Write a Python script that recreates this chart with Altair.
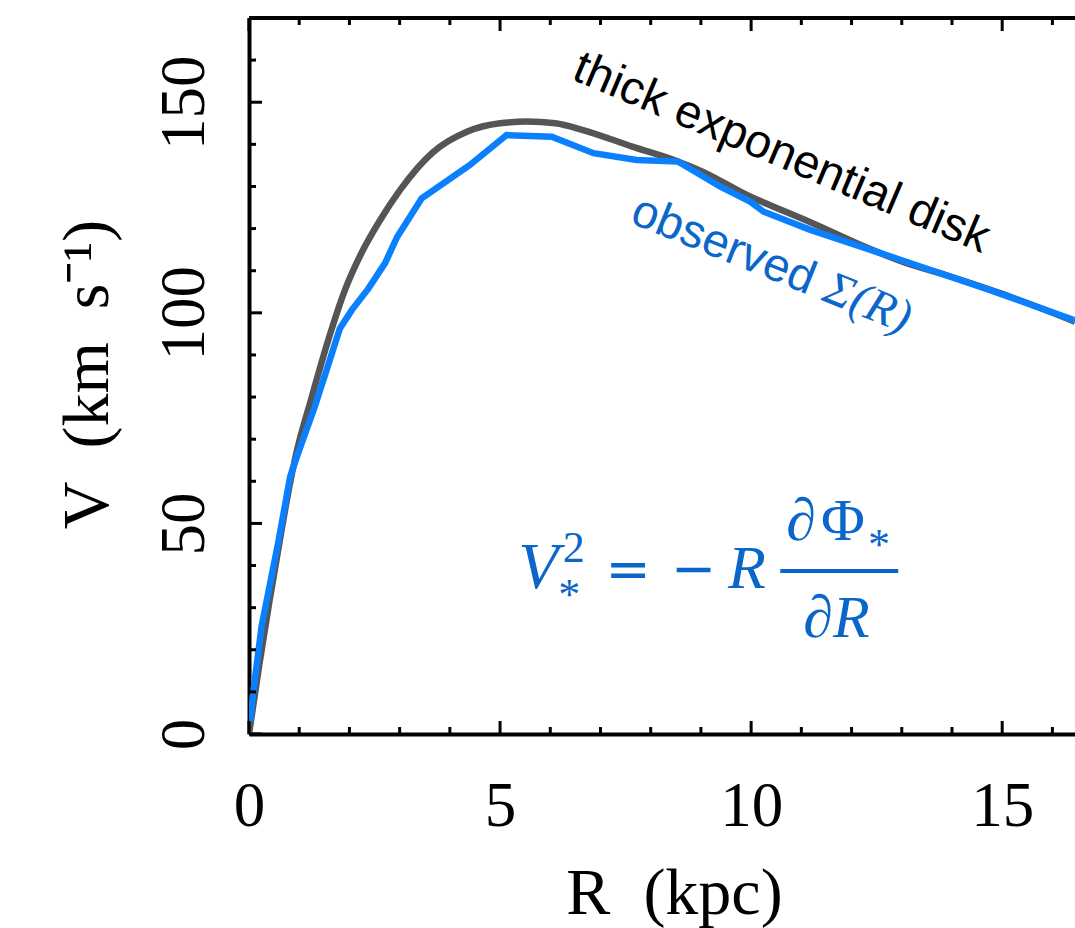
import altair as alt
import pandas as pd

# ---- data ----
obs_R = [0.02, 0.09, 0.25, 0.58, 0.82, 0.98, 1.31, 1.81, 2.05, 2.38, 2.71, 2.95,
         3.44, 4.40, 5.13, 6.03, 6.86, 7.72, 8.55, 9.38, 9.98, 10.25, 11.18,
         12.97, 14.76, 16.45]
obs_V = [2.9, 10.4, 25.5, 45.3, 61.1, 66.7, 77.7, 96.3, 100.7, 105.8, 111.8, 118.0,
         127.2, 135.1, 142.2, 141.8, 137.9, 136.3, 135.9, 130.0, 126.4, 124.0, 119.7,
         112.6, 105.4, 98.2]

disk_R = [0, 0.2, 0.4, 0.6, 0.8, 0.92, 1.25, 1.58, 1.91, 2.24, 2.6, 3.01, 3.67, 4.34,
          5.0, 5.54, 6.1, 6.65, 7.65, 8.53, 9.0, 10.0, 10.25, 11.18, 12.3, 13.0, 14.0,
          15.0, 16.45]
disk_V = [0, 16, 31, 45, 58.5, 65.5, 80.0, 93.6, 105.4, 114.2, 121.8, 129.2, 138.2, 143.0,
          145.0, 145.4, 145.0, 143.4, 139.4, 136.0, 133.7, 127.5, 126.2, 121.5, 115.5,
          112.2, 108.5, 104.5, 97.9]

x_labels = [0, 5, 10, 15]
y_labels = [0, 50, 100, 150]
x_minor = [1, 2, 3, 4, 6, 7, 8, 9, 11, 12, 13, 14, 16]
x_major = [0, 5, 10, 15]
y_minor = [10, 20, 30, 40, 60, 70, 80, 90, 110, 120, 130, 140, 160]
y_major = [0, 50, 100, 150]

X_MAX = 16.45
Y_MAX = 170

# annotation texts (anchor positions in data units)
label_thick = ["thick exponential disk"]
label_obs = ["observed"]
label_sigma = ["Σ(R)"]

SERIF = "Liberation Serif"
SANS = "Liberation Sans"
BLUE_LINE = "#0a80ff"
BLUE_TEXT = "#0a66c8"
GRAY = "#555555"

xs = alt.Scale(domain=[0, X_MAX], nice=False, zero=False)
ys = alt.Scale(domain=[0, Y_MAX], nice=False, zero=False)

x_axis = alt.Axis(
    values=x_labels, format="d", ticks=False, tickSize=0, grid=False,
    domainColor="black", domainWidth=4,
    labelFont=SERIF, labelFontSize=63, labelColor="black", labelPadding=91,
    labelBaseline="alphabetic", labelAlign="center", labelFlush=False, labelOverlap=False,
    title="R\u2002(kpc)", titleFont=SERIF, titleFontSize=66, titleFontWeight="normal",
    titleColor="black", titleX=425, titleY=179, titleAlign="center",
    titleBaseline="alphabetic", titleAngle=0,
)
y_axis = alt.Axis(
    values=y_labels, format="d", ticks=False, tickSize=0, grid=False,
    domainColor="black", domainWidth=4,
    labelFont=SERIF, labelFontSize=63, labelColor="black", labelPadding=46,
    labelAngle=270, labelBaseline="alphabetic", labelAlign="center",
    labelFlush=False, labelOverlap=False,
    title="V\u2002(km\u2002s\u207b\u00b9)", titleFont=SERIF, titleFontSize=66,
    titleFontWeight="normal", titleColor="black", titleAngle=270,
    titleX=-142, titleY=356, titleAlign="center", titleBaseline="alphabetic",
)

disk_df = pd.DataFrame({"R": disk_R, "V": disk_V})
obs_df = pd.DataFrame({"R": obs_R, "V": obs_V})

disk = alt.Chart(disk_df).mark_line(
    color=GRAY, strokeWidth=6.5, clip=True, interpolate="monotone"
).encode(
    x=alt.X("R:Q", scale=xs, axis=x_axis), y=alt.Y("V:Q", scale=ys, axis=y_axis)
)
obs = alt.Chart(obs_df).mark_line(color=BLUE_LINE, strokeWidth=6.5, clip=True).encode(
    x=alt.X("R:Q", scale=xs), y=alt.Y("V:Q", scale=ys)
)


def ticks_x(vals, at, off):
    return alt.Chart(pd.DataFrame({"t": vals})).mark_rule(
        color="black", strokeWidth=3, y2Offset=off
    ).encode(x=alt.X("t:Q", scale=xs), y=alt.datum(at), y2=alt.datum(at))


def ticks_y(vals, off):
    return alt.Chart(pd.DataFrame({"t": vals})).mark_rule(
        color="black", strokeWidth=3, x2Offset=off
    ).encode(y=alt.Y("t:Q", scale=ys), x=alt.datum(0), x2=alt.datum(0))


top_border = alt.Chart(pd.DataFrame({"a": [0]})).mark_rule(
    color="black", strokeWidth=4
).encode(x=alt.datum(0), x2=alt.datum(X_MAX), y=alt.datum(Y_MAX))


def text_layer(R, V, texts, **kw):
    df = pd.DataFrame({"R": R, "V": V, "t": texts})
    return alt.Chart(df).mark_text(align="left", baseline="alphabetic", **kw).encode(
        x=alt.X("R:Q", scale=xs), y=alt.Y("V:Q", scale=ys), text="t:N"
    )


thick = text_layer([6.40], [155.6], label_thick, font=SANS, fontSize=47,
                   color="black", angle=23)
observed = text_layer([7.56], [121.5], label_obs, font=SANS, fontSize=47,
                      color=BLUE_TEXT, angle=22)
sigma = text_layer([7.56], [121.5], label_sigma, font=SERIF, fontSize=48,
                   fontStyle="italic", color=BLUE_TEXT, angle=22, dx=207)

# formula V*^2 = - R dPhi*/dR
f_italic_big = text_layer([5.36], [34.67], ["V"], font=SERIF, fontSize=66,
                          fontStyle="italic", color=BLUE_TEXT)
f_sup = text_layer([6.25], [40.85], ["2"], font=SERIF, fontSize=44, color=BLUE_TEXT)
f_stars = text_layer([6.16, 12.33], [29.7, 41.56], ["*", "*"], font=SERIF,
                     fontSize=44, color=BLUE_TEXT)
f_ops = text_layer([7.10, 8.40], [34.9, 34.9], ["=", "\u2212"], font="DejaVu Sans",
                   fontSize=54, color=BLUE_TEXT)
f_R = text_layer([9.54], [34.67], ["R"], font=SERIF, fontSize=62,
                 fontStyle="italic", color=BLUE_TEXT)
f_num_d = text_layer([10.70], [46.07], ["\u2202"], font=SERIF, fontSize=60,
                     fontStyle="italic", color=BLUE_TEXT)
f_num_phi = text_layer([11.39], [46.07], ["\u03a6"], font=SERIF, fontSize=60,
                       color=BLUE_TEXT)
f_den = text_layer([11.04], [23.03], ["\u2202R"], font=SERIF, fontSize=60,
                   fontStyle="italic", color=BLUE_TEXT)
f_bar = alt.Chart(pd.DataFrame({"a": [0]})).mark_rule(
    color=BLUE_TEXT, strokeWidth=4
).encode(x=alt.datum(10.58), x2=alt.datum(12.93), y=alt.datum(38.71))

chart = alt.layer(
    disk, obs,
    top_border,
    ticks_x(x_minor, 0, -7), ticks_x(x_major, 0, -13),
    ticks_x(x_minor, Y_MAX, 7), ticks_x(x_major, Y_MAX, 13),
    ticks_y(y_minor, 7), ticks_y(y_major, 13),
    thick, observed, sigma,
    f_italic_big, f_sup, f_stars, f_ops, f_R, f_num_d, f_num_phi, f_den, f_bar,
).properties(
    width=826, height=716,
    padding={"left": 249, "top": 18, "right": 0, "bottom": 194},
    autosize=alt.AutoSizeParams(type="none"),
    background="white",
).configure_view(stroke=None)

chart.save("out.html", embed_options={"renderer": "svg", "actions": False})
